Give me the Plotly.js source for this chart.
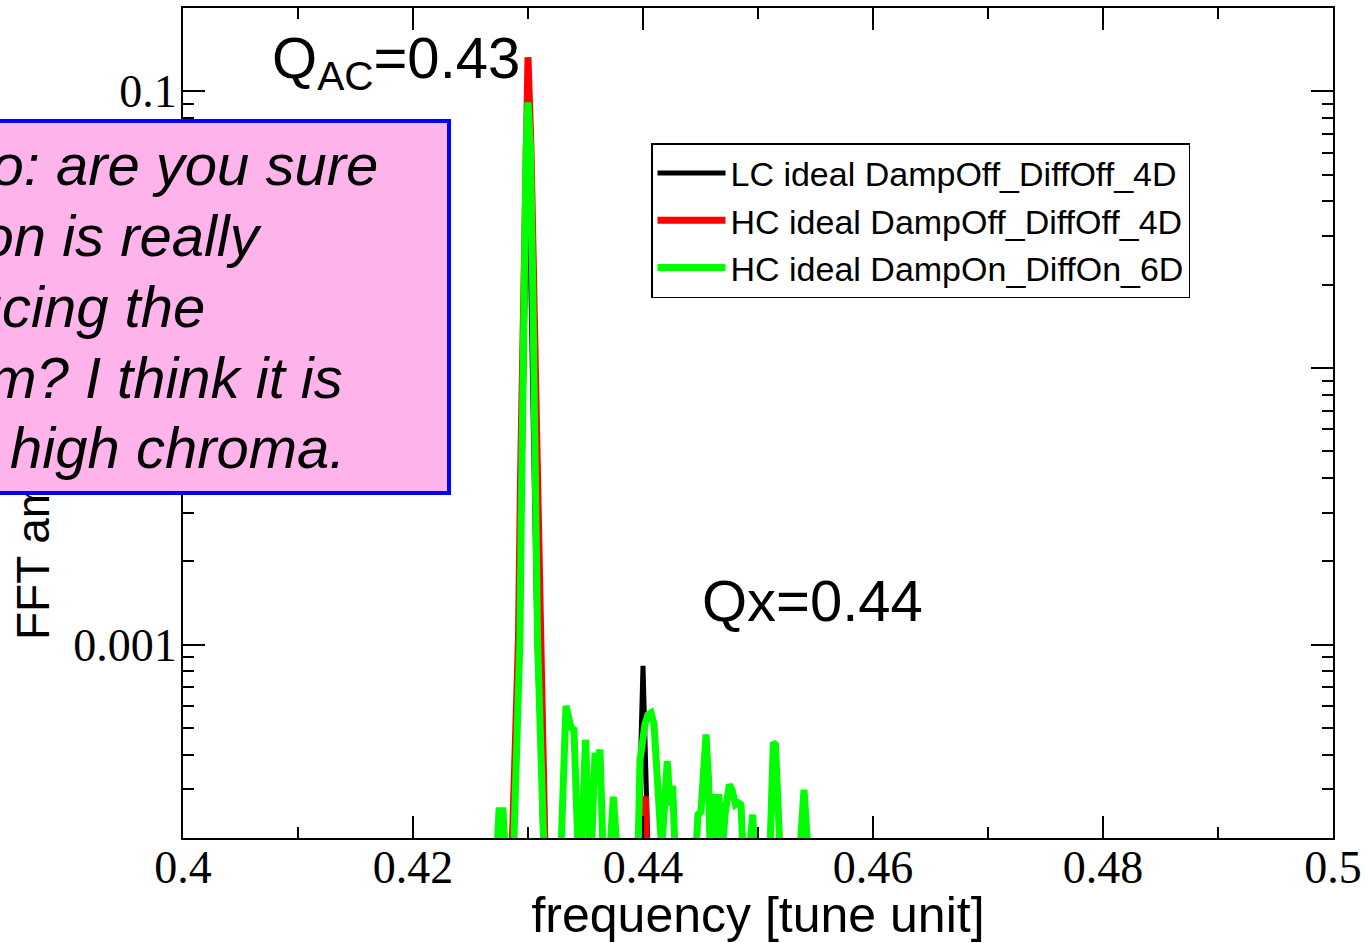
<!DOCTYPE html>
<html>
<head>
<meta charset="utf-8">
<script src="https://cdn.plot.ly/plotly-3.0.1.min.js"></script>
<style>
  html, body { margin: 0; padding: 0; background: #fff; }
  #chart { width: 1368px; height: 943px; }
</style>
</head>
<body>
<div id="chart"></div>
<script>
// Spectrum of the horizontal motion, FFT amplitude vs. tune
const seriesNames = [
  'LC ideal DampOff_DiffOff_4D',
  'HC ideal DampOff_DiffOff_4D',
  'HC ideal DampOn_DiffOn_6D'
];

// LC, damping and diffusion off
const freqLC = [0.42870, 0.42896, 0.42926, 0.43000, 0.43078, 0.43113, 0.43130,
                0.43974, 0.43983, 0.44000, 0.44017, 0.44039, 0.44043];
const ampLC  = [1.8e-4, 3.83e-4, 1.04e-3, 0.0793, 1.04e-3, 3.83e-4, 1.8e-4,
                1.8e-4, 4.53e-4, 8.39e-4, 4.93e-4, 2.75e-4, 1.8e-4];

// HC, damping and diffusion off
const freqHCoff = [0.42852, 0.42865, 0.42891, 0.42917, 0.42935, 0.42957, 0.42978, 0.43000,
                   0.43026, 0.43052, 0.43078, 0.43100, 0.43122, 0.43139, 0.43148,
                   0.43983, 0.43991, 0.44022, 0.44030];
const ampHCoff  = [1.8e-4, 2.0e-4, 4.53e-4, 1.04e-3, 3.95e-3, 0.0177, 0.0617, 0.1328,
                   0.0617, 0.0177, 3.95e-3, 1.04e-3, 4.53e-4, 2.0e-4, 1.8e-4,
                   1.8e-4, 2.75e-4, 2.75e-4, 1.8e-4];

// HC, damping and diffusion on
const freqHCon = [
  0.42730, 0.42748, 0.42783, 0.42800,
  0.42861, 0.42878, 0.42904, 0.42930, 0.42943, 0.42961, 0.42983, 0.43000, 0.43022, 0.43043, 0.43065, 0.43083, 0.43109, 0.43130, 0.43139,
  0.43287, 0.43309, 0.43330, 0.43348, 0.43374, 0.43400, 0.43417, 0.43435,
  0.43465, 0.43500, 0.43539,
  0.43552, 0.43583, 0.43604, 0.43626, 0.43652,
  0.43713, 0.43742, 0.43774,
  0.43957, 0.43974, 0.43991, 0.44017, 0.44043, 0.44070, 0.44096, 0.44113, 0.44130, 0.44148,
  0.44163, 0.44211, 0.44235, 0.44258, 0.44278,
  0.44461, 0.44478, 0.44504, 0.44522, 0.44548, 0.44570, 0.44583,
  0.44617, 0.44632, 0.44661, 0.44674,
  0.44691, 0.44713, 0.44735, 0.44750, 0.44774, 0.44804, 0.44830, 0.44852, 0.44870,
  0.44926, 0.44954, 0.44970,
  0.45104, 0.45133, 0.45152, 0.45191,
  0.45365, 0.45400, 0.45435
];
const ampHCon = [
  1.8e-4, 2.51e-4, 2.51e-4, 1.8e-4,
  1.8e-4, 2.0e-4, 4.53e-4, 1.04e-3, 3.34e-3, 0.0177, 0.0617, 0.0912, 0.0617, 0.0177, 3.34e-3, 1.04e-3, 4.53e-4, 2.0e-4, 1.8e-4,
  1.8e-4, 4.53e-4, 6.01e-4, 5.58e-4, 5.01e-4, 4.93e-4, 3.25e-4, 1.8e-4,
  1.8e-4, 4.53e-4, 1.8e-4,
  1.8e-4, 4.06e-4, 3.77e-4, 4.17e-4, 1.8e-4,
  1.8e-4, 2.82e-4, 1.8e-4,
  1.8e-4, 3.83e-4, 4.53e-4, 5.14e-4, 5.58e-4, 5.67e-4, 5.14e-4, 3.83e-4, 2.75e-4, 1.8e-4,
  1.8e-4, 3.80e-4, 2.62e-4, 3.09e-4, 1.8e-4,
  1.8e-4, 2.43e-4, 2.49e-4, 3.53e-4, 4.73e-4, 3.25e-4, 1.8e-4,
  1.8e-4, 2.80e-4, 2.80e-4, 1.8e-4,
  1.8e-4, 2.43e-4, 2.99e-4, 3.12e-4, 2.99e-4, 2.64e-4, 2.68e-4, 2.64e-4, 1.8e-4,
  1.8e-4, 2.43e-4, 1.8e-4,
  1.8e-4, 4.43e-4, 4.35e-4, 1.8e-4,
  1.8e-4, 2.99e-4, 1.8e-4
];

// axis ticks
const yTickVals = [0.001, 0.01, 0.1];
const yTickText = ['0.001', '0.01', '0.1'];
const xRange = [0.4, 0.5];
const yRange = [2e-4, 0.2];

// tune labels
const qacLabel = 'Q<sub>AC</sub>=0.43';
const qxLabel = 'Qx=0.44';

// comment box, one entry per line
const noteLines = [
  'Hugo: are you sure',
  'diffusion is really',
  'reducing the',
  'spectrum? I think it is',
  'due to the high chroma.'
];

// ---------------------------------------------------------------
const W = 1368, H = 943;
const M = { l: 183, r: 35, t: 8, b: 105 };
const pw = W - M.l - M.r, ph = H - M.t - M.b;
const px = v => (v - M.l) / pw;          // page x -> paper
const py = v => (H - M.b - v) / ph;      // page y -> paper

// minor ticks at 2..9 of every decade
const yMinor = [];
for (let e = -4; e <= -1; e++) {
  for (let k = 2; k <= 9; k++) {
    const v = k * Math.pow(10, e);
    if (v >= yRange[0] * 0.999 && v <= yRange[1] * 1.001) yMinor.push(v);
  }
}

const colors = ['#000000', '#ff0000', '#00ff00'];
const widths = [5, 7, 7];
const freqs = [freqLC, freqHCoff, freqHCon];
const amps = [ampLC, ampHCoff, ampHCon];

const traces = seriesNames.map((name, i) => ({
  type: 'scatter',
  mode: 'lines',
  name: name,
  x: freqs[i],
  y: amps[i],
  line: { color: colors[i], width: widths[i] }
}));

const sans = 'Liberation Sans, Arial, sans-serif';
const serif = 'Liberation Serif, Times New Roman, serif';

const annotations = [];

// y axis title (sits under the comment box)
annotations.push({
  xref: 'paper', yref: 'paper',
  x: px(33), y: py(492),
  xanchor: 'center', yanchor: 'middle',
  text: 'FFT amplitude', textangle: -90,
  showarrow: false, borderpad: 0, borderwidth: 0,
  font: { family: sans, size: 46, color: '#000' }
});

// comment box
const boxL = -60, boxR = 451, boxT = 119, boxB = 495, boxBW = 4;
annotations.push({
  xref: 'paper', yref: 'paper',
  x: px(boxR), y: py(boxT),
  xanchor: 'right', yanchor: 'top',
  text: ' ', showarrow: false,
  width: boxR - boxL - 2 * boxBW,
  height: boxB - boxT - 2 * boxBW,
  bgcolor: '#ffb3eb', bordercolor: '#0000ff',
  borderwidth: boxBW, borderpad: 0
});

// comment text, right ends and baselines of each line
const noteRight = [378, 262, 205, 343, 345];
const noteBase = [185, 256, 327, 398, 468];
const noteSize = 58;
noteLines.forEach((t, i) => {
  annotations.push({
    xref: 'paper', yref: 'paper',
    x: px(noteRight[i]), y: py(noteBase[i] - 0.3465 * noteSize),
    xanchor: 'right', yanchor: 'middle',
    text: '<i>' + t + '</i>', showarrow: false,
    borderpad: 0, borderwidth: 0,
    font: { family: sans, size: noteSize, color: '#000' }
  });
});

// tune labels
const qSize = 58;
annotations.push({
  xref: 'paper', yref: 'paper',
  x: px(272), y: py(77 - 0.905 * qSize),
  xanchor: 'left', yanchor: 'top',
  text: qacLabel, showarrow: false, borderpad: 0, borderwidth: 0,
  font: { family: sans, size: qSize, color: '#000' }
});
annotations.push({
  xref: 'paper', yref: 'paper',
  x: px(702), y: py(620 - 0.905 * qSize),
  xanchor: 'left', yanchor: 'top',
  text: qxLabel, showarrow: false, borderpad: 0, borderwidth: 0,
  font: { family: sans, size: qSize, color: '#000' }
});

const layout = {
  width: W, height: H,
  margin: M,
  paper_bgcolor: '#ffffff',
  plot_bgcolor: '#ffffff',
  font: { family: sans, color: '#000' },
  showlegend: true,
  legend: {
    x: px(651), y: py(143), xanchor: 'left', yanchor: 'top',
    bgcolor: '#ffffff', bordercolor: '#000000', borderwidth: 1.5,
    font: { family: sans, size: 34, color: '#000' },
    itemwidth: 68,
    tracegroupgap: 0
  },
  xaxis: {
    range: xRange,
    tick0: 0.4, dtick: 0.02,
    ticks: 'inside', ticklen: 22, tickwidth: 2, tickcolor: '#000',
    minor: { dtick: 0.01, tick0: 0.4, ticks: 'inside', ticklen: 11, tickwidth: 2, tickcolor: '#000', showgrid: false },
    showline: true, linecolor: '#000', linewidth: 2, mirror: 'ticks',
    showgrid: false, zeroline: false,
    ticklabelstandoff: -12,
    tickfont: { family: serif, size: 46, color: '#000' },
    title: { text: 'frequency [tune unit]', font: { family: sans, size: 50, color: '#000' }, standoff: 6 }
  },
  yaxis: {
    type: 'log',
    range: [Math.log10(yRange[0]), Math.log10(yRange[1])],
    tickmode: 'array', tickvals: yTickVals, ticktext: yTickText,
    ticks: 'inside', ticklen: 22, tickwidth: 2, tickcolor: '#000',
    minor: { tickmode: 'array', tickvals: yMinor, ticks: 'inside', ticklen: 11, tickwidth: 2, tickcolor: '#000', showgrid: false },
    showline: true, linecolor: '#000', linewidth: 2, mirror: 'ticks',
    showgrid: false, zeroline: false,
    ticklabelstandoff: -5,
    tickfont: { family: serif, size: 46, color: '#000' }
  },
  annotations: annotations
};

Plotly.newPlot('chart', traces, layout, { staticPlot: true, displayModeBar: false });
</script>
</body>
</html>
